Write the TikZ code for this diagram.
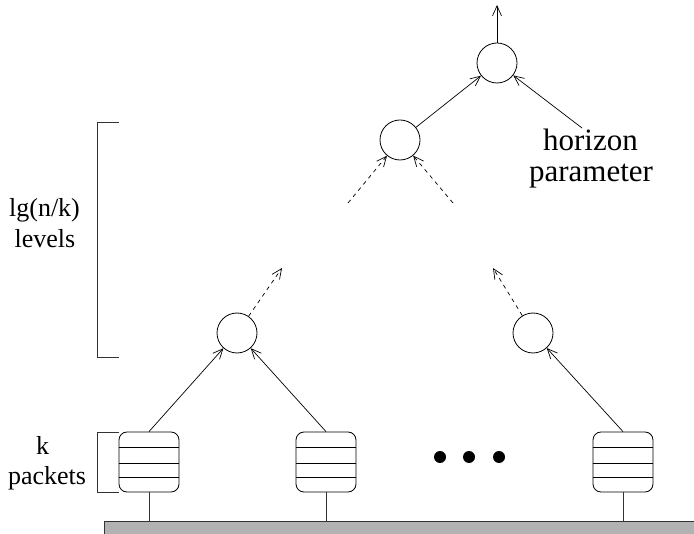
\documentclass[tikz,border=0pt]{standalone}
\usepackage{fontspec}
\setmainfont{Liberation Serif}
\usetikzlibrary{arrows.meta}
\begin{document}
\begin{tikzpicture}[x=1pt,y=-1pt,
  nd/.style={circle,draw,line width=0.8pt,minimum size=40pt,inner sep=0pt},
  queue/.style={draw,line width=0.8pt,rounded corners=8pt,minimum width=60pt,minimum height=60pt,inner sep=0pt},
  arr/.style={line width=0.7pt,-{Straight Barb[length=10pt,width=9pt,line width=0.7pt]}},
  darr/.style={arr,dash pattern=on 4pt off 4pt},
  lbl/.style={anchor=base,inner sep=0pt,font=\fontsize{26}{30}\selectfont},
  rlbl/.style={anchor=base,inner sep=0pt,font=\fontsize{31}{34}\selectfont},
  brk/.style={line width=0.8pt,draw=black!80},
  dot/.style={circle,fill=black,minimum size=12pt,inner sep=0pt}]
\useasboundingbox (0,0) rectangle (694,534);
% ground
\fill[gray!60] (104,521) rectangle (700,540);
\draw[line width=0.8pt,draw=black!80] (104,540) -- (104,521) -- (700,521);
\coordinate (ground) at (104,521);
% nodes
\node[nd] (top) at (497,63) {};
\node[nd] (mid) at (400,140) {};
\node[nd] (L) at (237,333) {};
\node[nd] (R) at (533,333) {};
% queues
\foreach \n/\x in {q1/149,q2/326,q3/623}{
  \node[queue] (\n) at (\x,462) {};
  \draw[line width=0.8pt] (\n.west |- 0,447) -- (\n.east |- 0,447);
  \draw[line width=0.8pt] (\n.west |- 0,463) -- (\n.east |- 0,463);
  \draw[line width=0.8pt] (\n.west |- 0,477) -- (\n.east |- 0,477);
  \draw[line width=0.8pt,draw=black!80] (\n.south) -- (\n.south |- ground);
}
% dots
\node[dot] (d1) at (440,457) {};
\node[dot] (d2) at (469,457) {};
\node[dot] (d3) at (499,457) {};
% free ends
\coordinate (out) at (497,5);
\coordinate (hp) at (582,128);
\coordinate (ml) at (348,203);
\coordinate (mr) at (453,203);
\coordinate (lu) at (282,268);
\coordinate (ru) at (493,268);
% connectors
\draw[arr] (top) -- (out);
\draw[arr] (mid) -- (top);
\draw[arr] (hp) -- (top);
\draw[darr] (ml) -- (mid);
\draw[darr] (mr) -- (mid);
\draw[darr] (L) -- (lu);
\draw[darr] (R) -- (ru);
\draw[arr] (q1.north) -- (L);
\draw[arr] (q2.north) -- (L);
\draw[arr] (q3.north) -- (R);
% labels
\node[rlbl] (h1) at (590.5,151) {horizon};
\node[rlbl] (h2) at (591,182) {parameter};
\node[lbl] (l1) at (44.5,217) {lg(n/k)};
\node[lbl] (l2) at (45,248) {levels};
\node[lbl] (k1) at (42.5,455) {k};
\node[lbl] (k2) at (47,485) {packets};
% brackets
\draw[brk] (119,122) -- (97,122) -- (97,357) -- (119,357);
\draw[brk] (119,432) -- (97,432) -- (97,492) -- (119,492);
\end{tikzpicture}
\end{document}
